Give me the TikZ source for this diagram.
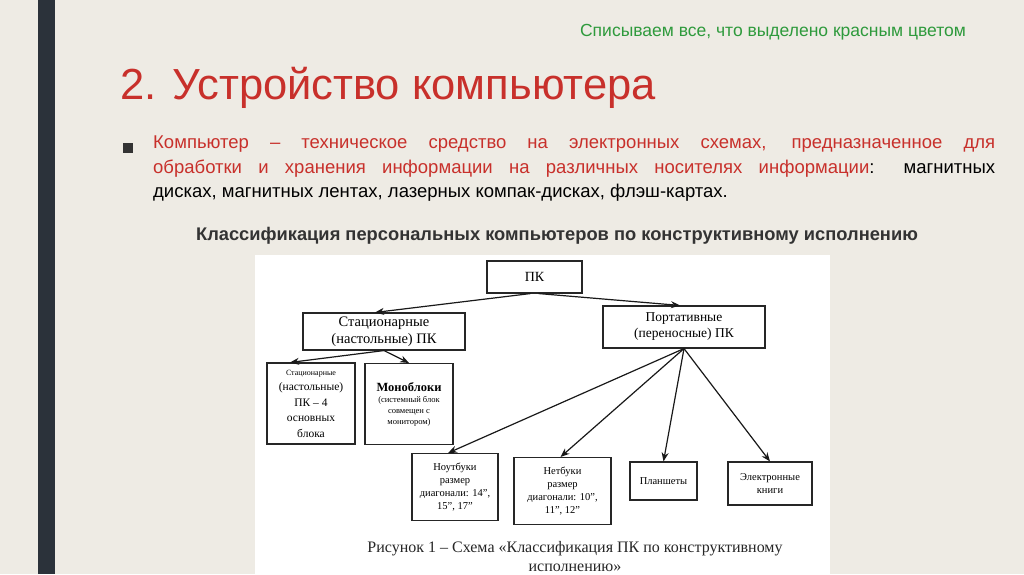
\documentclass[tikz,border=0pt]{standalone}
\usepackage{fontspec}
\setmainfont{Liberation Sans}
\newfontfamily\serifru{Liberation Serif}
\usetikzlibrary{arrows.meta}
\definecolor{bg}{HTML}{EEEBE4}
\definecolor{bar}{HTML}{2B323A}
\definecolor{grn}{HTML}{2E9A3C}
\definecolor{rd}{HTML}{C8302B}
\definecolor{dk}{HTML}{333333}
\tikzset{
 bx/.style={draw=black!85,line width=1.1pt,fill=white,align=center,font=\serifru,inner sep=2pt},
 ar/.style={-{Stealth[length=9pt,width=7pt]},line width=1.2pt,black!90}
}
\begin{document}
\begin{tikzpicture}[x=1pt,y=-1pt]
\fill[bg] (0,0) rectangle (1024,574);
\useasboundingbox (0,0) rectangle (1024,574);
\fill[bar] (38,0) rectangle (55,574);
\node[font=\fontsize{17.5}{20}\selectfont,text=grn] (top) at (773,32) {Списываем все, что выделено красным цветом};
\node[anchor=west,font=\fontsize{43.5}{46}\selectfont,text=rd,inner sep=0] (title) at (120,88) {2. Устройство компьютера};
\fill[dk] (123,143) rectangle (133,153);
\node[anchor=north west,inner sep=0,text width=842pt,align=justify,font=\fontsize{18.5}{24.5}\selectfont] (body) at (153,136)
{\color{rd}Компьютер – техническое средство на электронных схемах, предназначенное для\linebreak обработки и хранения информации на различных носителях информации\color{black}: магнитных\linebreak дисках, магнитных лентах, лазерных компак-дисках, флэш-картах.};
\node[font=\bfseries\fontsize{18.3}{20}\selectfont,text=dk] (sub) at (557,236) {Классификация персональных компьютеров по конструктивному исполнению};
\fill[white] (255,255) rectangle (830,574);
\node[bx,minimum width=95pt,minimum height=32pt,font=\serifru\fontsize{14}{16}\selectfont] (pk) at (534.5,277) {ПК};
\node[bx,minimum width=162pt,minimum height=37pt,font=\serifru\fontsize{14.5}{17}\selectfont] (st) at (384,331.5) {Стационарные\\(настольные) ПК};
\node[bx,minimum width=162pt,minimum height=42pt,font=\serifru\fontsize{13.5}{16}\selectfont] (pt) at (684,327) {Портативные\\(переносные) ПК};
\node[bx,minimum width=88pt,minimum height=81pt,font=\serifru\fontsize{11.5}{15.5}\selectfont] (s1) at (311,403.5) {{\fontsize{8}{10}\selectfont Стационарные}\\(настольные)\\ПК – 4\\основных\\блока};
\node[bx,minimum width=88pt,minimum height=81pt,font=\serifru\fontsize{8.5}{11}\selectfont,anchor=north] (s2) at (409,363) {{\fontsize{12.5}{16}\selectfont\bfseries Моноблоки}\\(системный блок\\совмещен с\\монитором)};
\node[bx,minimum width=86pt,minimum height=67pt,font=\serifru\fontsize{10.5}{13}\selectfont,anchor=north] (n1) at (455,453) {Ноутбуки\\размер\\диагонали: 14”,\\15”, 17”};
\node[bx,minimum width=97pt,minimum height=67pt,font=\serifru\fontsize{10.5}{13}\selectfont,anchor=north] (n2) at (562.5,457) {Нетбуки\\размер\\диагонали: 10”,\\11”, 12”};
\node[bx,minimum width=67pt,minimum height=38pt,font=\serifru\fontsize{10.5}{13}\selectfont] (n3) at (663.5,481) {Планшеты};
\node[bx,minimum width=84pt,minimum height=43pt,font=\serifru\fontsize{10.5}{13}\selectfont] (n4) at (770,483.5) {Электронные\\книги};
\node[font=\serifru\fontsize{16}{19}\selectfont,align=center,text=black!85] (cap) at (575,557) {Рисунок 1 – Схема «Классификация ПК по конструктивному\\исполнению»};
\draw[ar] ([xshift=-4pt]pk.south) -- ([xshift=-9pt]st.north);
\draw[ar] ([xshift=4pt]pk.south) -- ([xshift=-4pt]pt.north);
\draw[ar] (st.south) -- ([xshift=-21pt]s1.north);
\draw[ar] (st.south) -- (s2.north);
\draw[ar] (pt.south) -- ([xshift=-7pt]n1.north);
\draw[ar] (pt.south) -- ([xshift=-2pt]n2.north);
\draw[ar] (pt.south) -- (n3.north);
\draw[ar] (pt.south) -- (n4.north);
\end{tikzpicture}
\end{document}
